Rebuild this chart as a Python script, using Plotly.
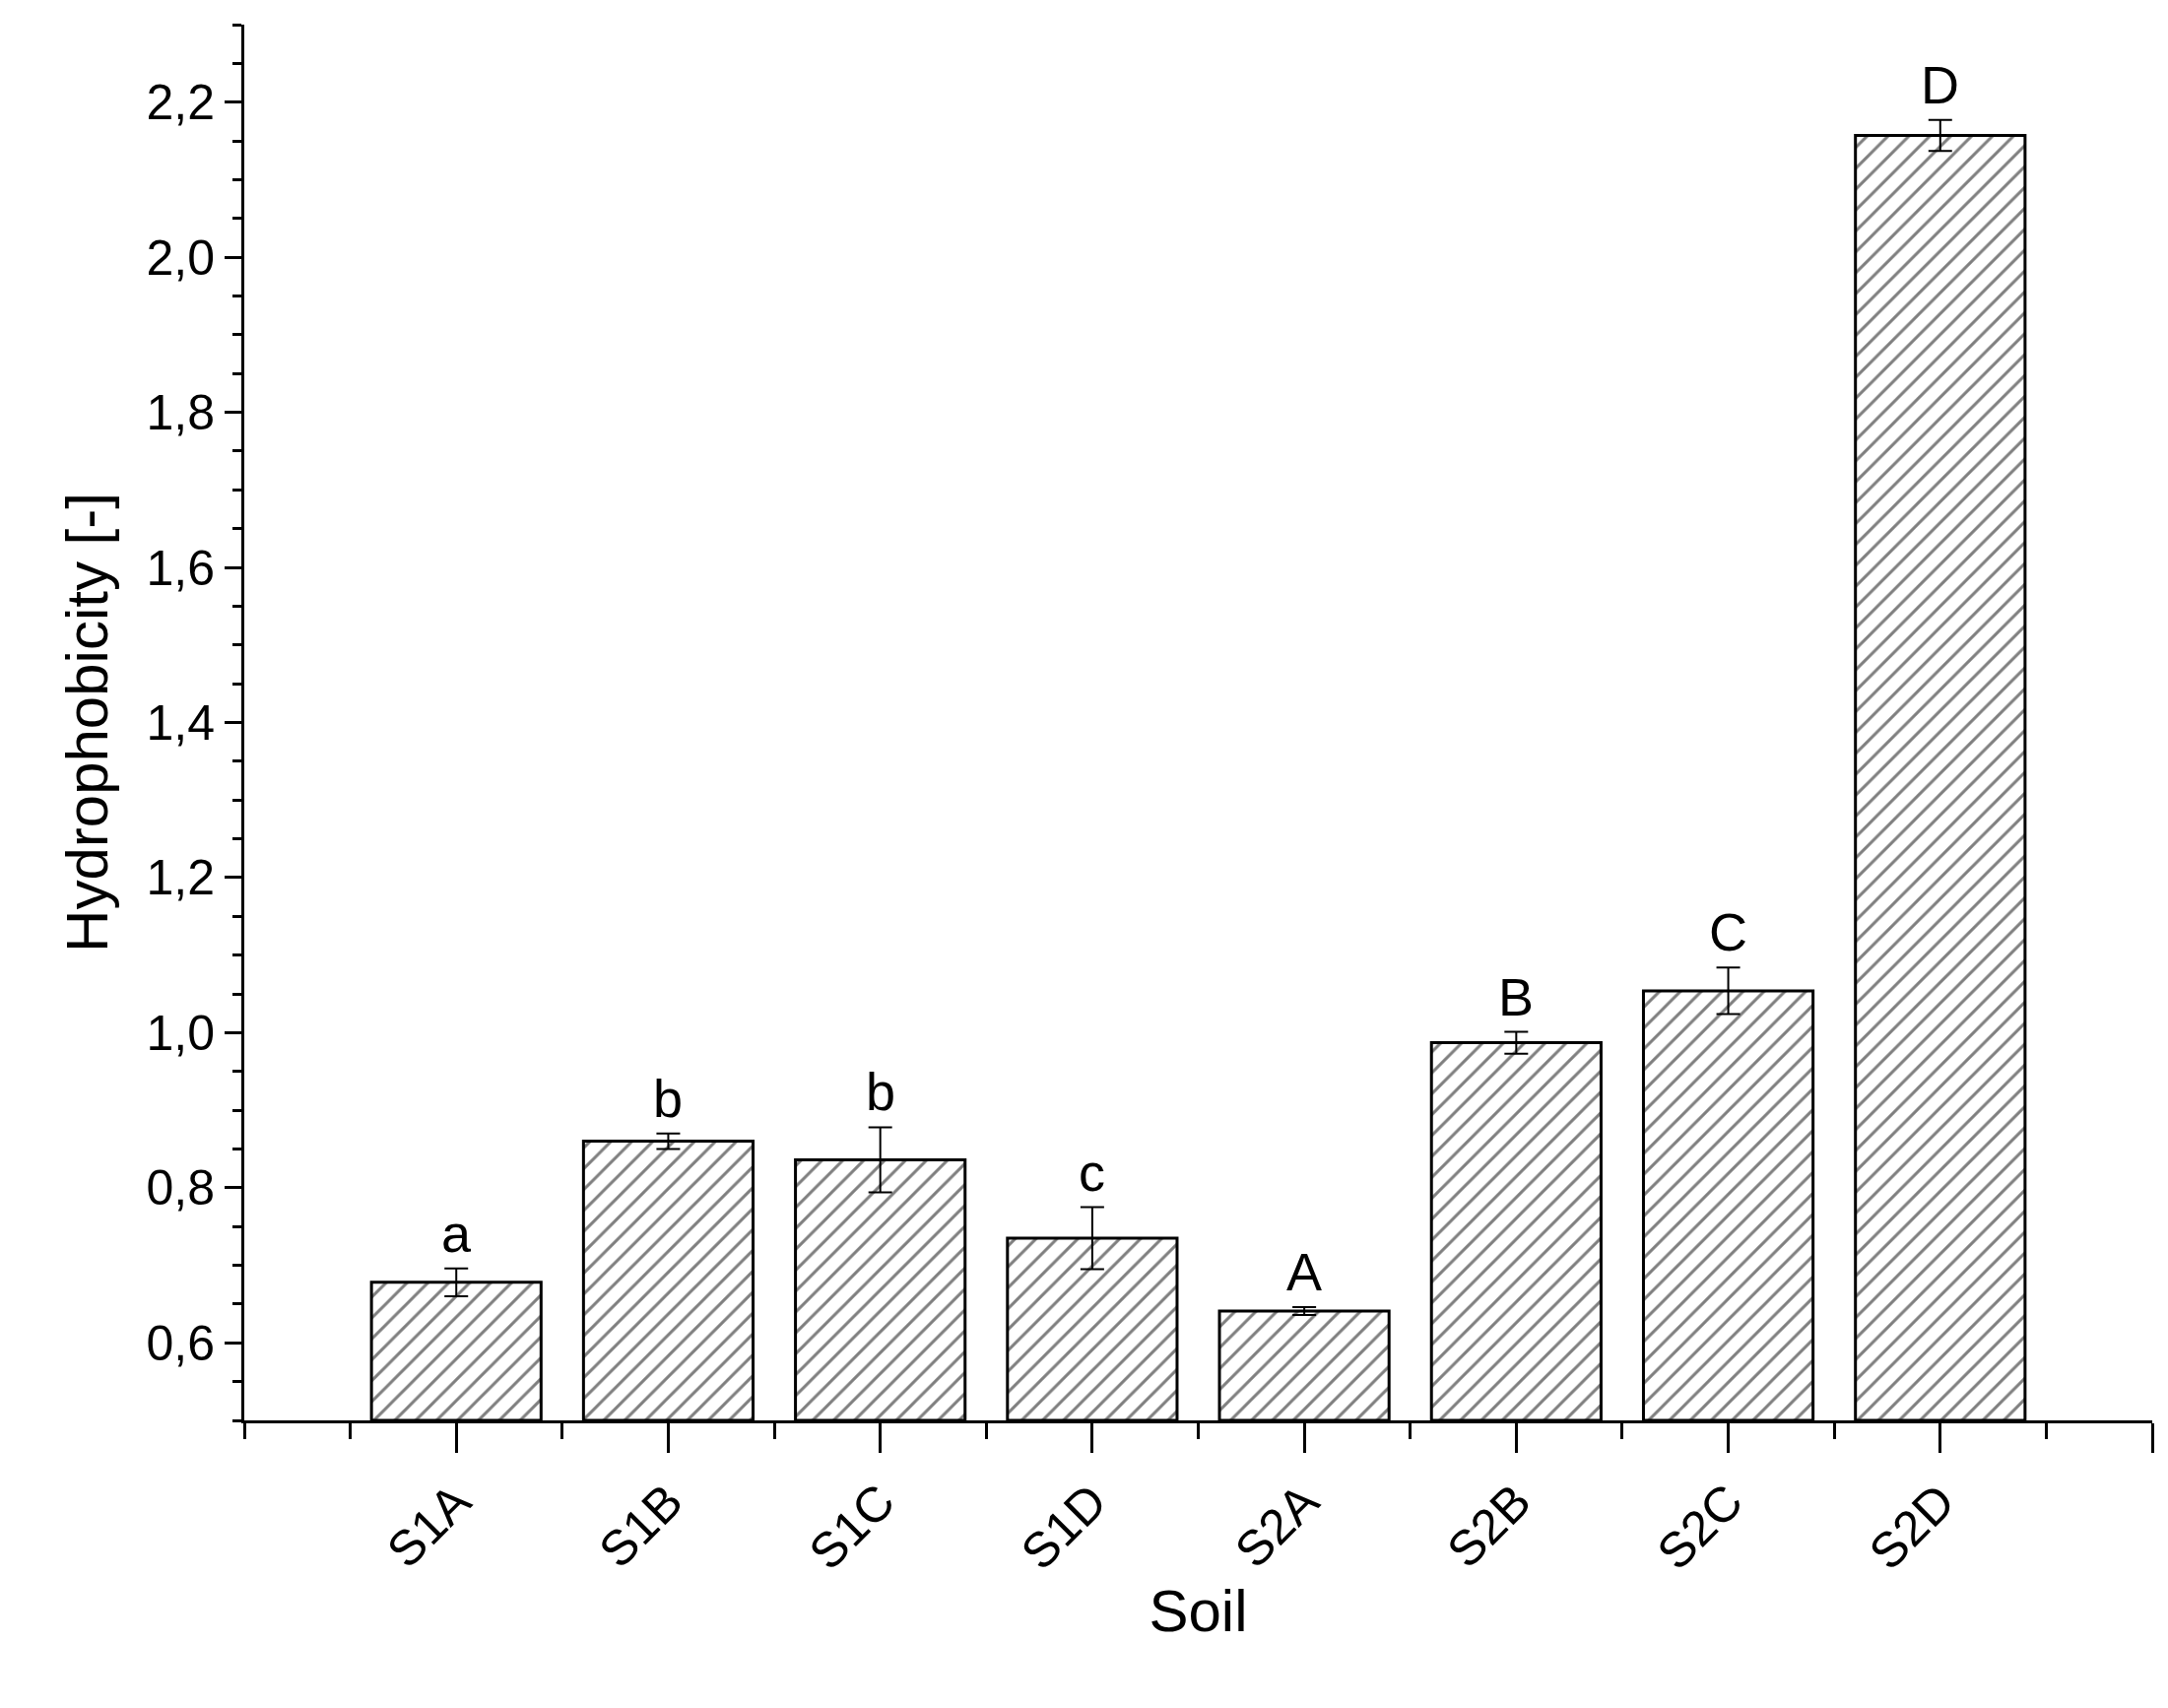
import plotly.graph_objects as go

categories = ["S1A", "S1B", "S1C", "S1D", "S2A", "S2B", "S2C", "S2D"]
tick_labels = ["S1A", "S1B", "S1C", "S1D", "S2A", "S2B", "S2C", "S2D", "--"]
values = [0.678, 0.860, 0.836, 0.735, 0.641, 0.987, 1.054, 2.157]
errors = [0.018, 0.010, 0.042, 0.040, 0.005, 0.014, 0.030, 0.020]
letters = ["a", "b", "b", "c", "A", "B", "C", "D"]

xpos = list(range(1, len(categories) + 1))
base = 0.5

fig = go.Figure()
fig.add_trace(go.Bar(
    x=xpos, y=[v - base for v in values], base=base, width=0.8,
    marker=dict(color="white", line=dict(color="black", width=3),
                pattern=dict(shape="/", fgcolor="black", bgcolor="white", size=15, solidity=0.2)),
    error_y=dict(type="data", array=errors, color="black", thickness=2, width=12),
    showlegend=False,
))
for x, v, e, t in zip(xpos, values, errors, letters):
    fig.add_annotation(x=x, y=v + e, text=t, showarrow=False, yanchor="bottom", yshift=4,
                       font=dict(size=54, color="black", family="Arial, Liberation Sans"))

fig.update_layout(
    width=2201, height=1734, plot_bgcolor="white", paper_bgcolor="white",
    margin=dict(l=240, r=24, t=17, b=300), separators=",.",
    font=dict(family="Arial, Liberation Sans", color="black", size=50),
)
fig.update_xaxes(range=[0, 9], tickvals=list(range(1, 10)), ticktext=tick_labels, tickangle=-45,
                 showline=True, linecolor="black", linewidth=3, ticks="outside", ticklen=30,
                 tickwidth=3, tickcolor="black", showgrid=False, zeroline=False,
                 minor=dict(dtick=0.5, tick0=0, ticks="outside", ticklen=16, tickwidth=3, tickcolor="black"),
                 title=dict(text="Soil", font=dict(size=60), standoff=10))
fig.update_yaxes(range=[0.5, 2.3], tickvals=[0.6, 0.8, 1.0, 1.2, 1.4, 1.6, 1.8, 2.0, 2.2], tickformat=".1f",
                 showline=True, linecolor="black", linewidth=3, ticks="outside", ticklen=17,
                 tickwidth=3, tickcolor="black", showgrid=False, zeroline=False,
                 minor=dict(dtick=0.05, tick0=0.5, ticks="outside", ticklen=9, tickwidth=3, tickcolor="black"),
                 title=dict(text="Hydrophobicity [-]", font=dict(size=60), standoff=20))
fig.write_html("out.html")
